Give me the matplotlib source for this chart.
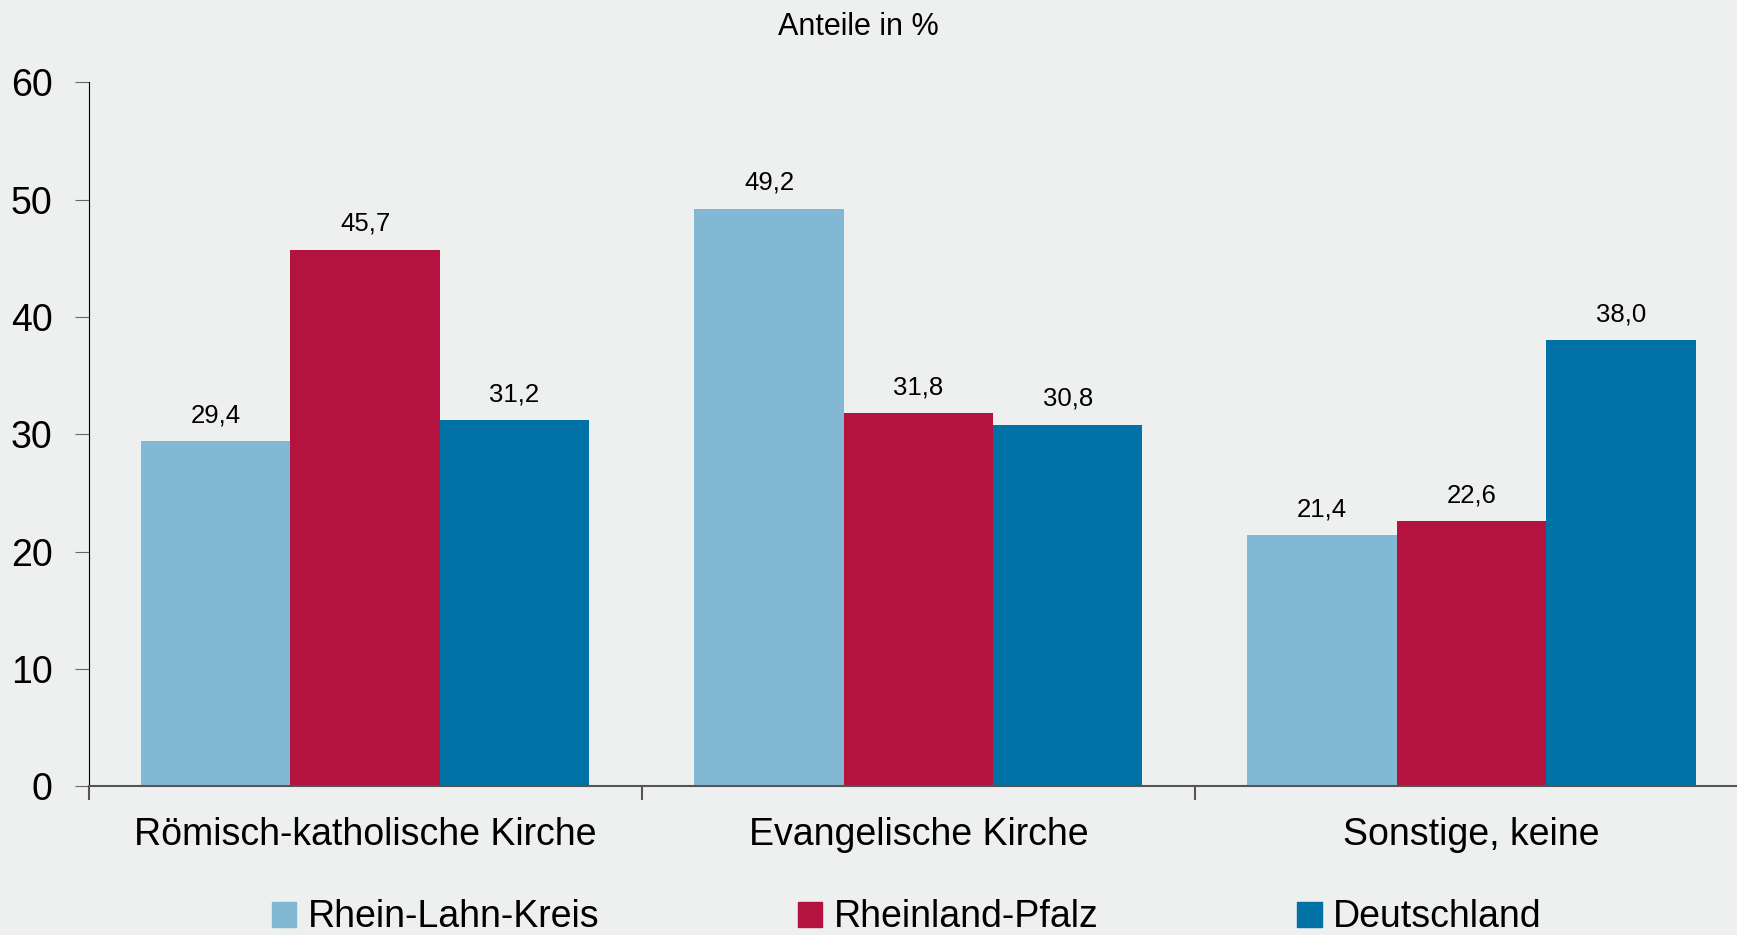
import numpy as np
import matplotlib.pyplot as plt
from matplotlib.patches import Patch

plt.rcParams['font.family'] = ['Liberation Sans', 'DejaVu Sans']

categories = ['Römisch-katholische Kirche', 'Evangelische Kirche', 'Sonstige, keine']
series = ['Rhein-Lahn-Kreis', 'Rheinland-Pfalz', 'Deutschland']
rhein_lahn = [29.4, 49.2, 21.4]
rheinland_pfalz = [45.7, 31.8, 22.6]
deutschland = [31.2, 30.8, 38.0]
colors = ['#83B8D5', '#B5133F', '#0072A5']
bg = '#EEEFEF'

fig = plt.figure(figsize=(17.37, 9.35), dpi=100, facecolor=bg)
ax = fig.add_axes([0.051, 0.159, 0.949, 0.753])
ax.set_facecolor(bg)

x = np.arange(len(categories))
w = 0.27
for i, vals in enumerate([rhein_lahn, rheinland_pfalz, deutschland]):
    pos = x + (i - 1) * w
    ax.bar(pos, vals, width=w, color=colors[i], label=series[i])
    for p, v in zip(pos, vals):
        ax.text(p, v + 1.2, f'{v:.1f}'.replace('.', ','), ha='center', va='bottom', fontsize=18.5)

ax.set_xlim(-0.5, 2.48)
ax.set_ylim(0, 60)
ax.set_yticks(np.arange(0, 61, 10))
ax.tick_params(axis='y', labelsize=27, length=10, color='#666666', pad=16)
ax.set_xticks(x)
ax.set_xticklabels(categories)
ax.set_xticks([-0.5, 0.5, 1.5], minor=True)
ax.tick_params(axis='x', which='major', length=0, labelsize=27, pad=22)
ax.tick_params(axis='x', which='minor', length=10, color='#555555', width=1.5)

for s in ['top', 'right']:
    ax.spines[s].set_visible(False)
ax.spines['left'].set_color('black')
ax.spines['bottom'].set_color('#555555')
ax.spines['bottom'].set_linewidth(1.5)

fig.text(0.494, 0.971, 'Anteile in %', ha='center', va='center', fontsize=22)

handles = [Patch(color=c) for c in colors]
fig.legend(handles, series, loc='center', bbox_to_anchor=(0.522, 0.019), ncol=3,
           frameon=False, fontsize=27, handlelength=0.65, handleheight=0.65,
           handletextpad=0.3, columnspacing=5.3)

fig.savefig('out.png', dpi=100, facecolor=bg)
